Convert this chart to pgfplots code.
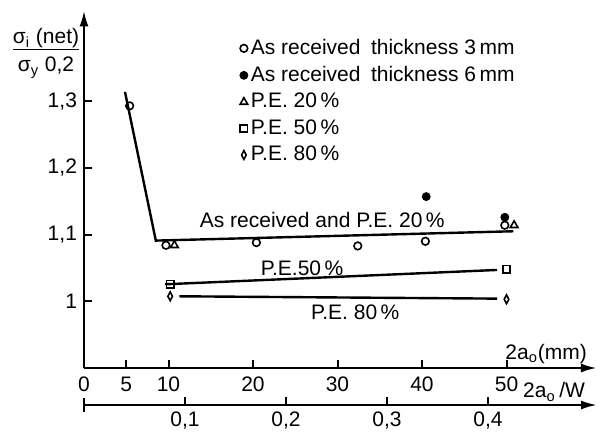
\documentclass[border=0pt]{standalone}
\usepackage{fontspec}
\setmainfont{Liberation Sans}
\usepackage{pgfplots}
\pgfplotsset{compat=1.18}
\usetikzlibrary{arrows.meta}
\begin{document}
\begin{tikzpicture}[font=\fontsize{10.5}{12}\selectfont]
\useasboundingbox (0,0) rectangle (300pt,216.5pt);
\begin{axis}[
  at={(42pt,32.5pt)}, anchor=south west,
  x=4.225pt, y=333.5pt,
  xmin=0, xmax=60.7, ymin=0.9, ymax=1.436,
  axis lines=left,
  axis line style={line width=1.2pt, -{Latex[length=8pt,width=4.5pt]}},
  xtick={0,5,10,20,30,40,50},
  xticklabels={0,5,10,20,30,40,50},
  ytick={1,1.1,1.2,1.3},
  yticklabels={1,{1,1},{1,2},{1,3}},
  tick align=inside,
  major tick length=4pt,
  tick style={line width=1pt, black},
  xticklabel style={yshift=-1pt},
  clip=false,
  legend style={at={(axis cs:18.4,1.398)}, anchor=north west, draw=none, fill=none,
    row sep=1.4pt, inner sep=0pt, nodes={inner sep=1.5pt, anchor=west}},
  legend cell align=left,
  legend image code/.code={\draw[mark repeat=2,mark phase=2,#1] plot coordinates {(0cm,0cm)(0.1cm,0cm)(0.2cm,0cm)};},
]
% fitted lines
\addplot[black, line width=1.2pt, forget plot] coordinates {(4.85,1.314) (8.5,1.091) (50.8,1.105)};
\addplot[black, line width=1.2pt, forget plot] coordinates {(9.6,1.0255) (48.9,1.047)};
\addplot[black, line width=1.2pt, forget plot] coordinates {(11.3,1.0075) (48.9,1.004)};
% data
\addplot[only marks, mark=o, mark size=1.9pt, black, thick] coordinates {(5.4,1.293) (9.7,1.084) (20.4,1.088) (32.4,1.083) (40.4,1.090) (49.8,1.114)};
\addlegendentry{As received\enspace thickness 3\,mm}
\addplot[only marks, mark=*, mark size=2pt, black] coordinates {(40.5,1.157) (49.8,1.126)};
\addlegendentry{As received\enspace thickness 6\,mm}
\addplot[only marks, mark=triangle, mark size=2.2pt, black, thick] coordinates {(10.7,1.084) (50.9,1.114)};
\addlegendentry{P.E. 20\,\%}
\addplot[only marks, mark=square, mark size=1.8pt, black, thick] coordinates {(10.2,1.0255) (50.0,1.048)};
\addlegendentry{P.E. 50\,\%}
\addplot[only marks, mark=diamond, mark size=2.2pt, mark options={xscale=0.7}, black, thick] coordinates {(10.2,1.0075) (50.0,1.003)};
\addlegendentry{P.E. 80\,\%}
% line labels
\node at (axis cs:28.2,1.1214) {As received and P.E. 20\,\%};
\node at (axis cs:25.8,1.0495) {P.E.50\,\%};
\node at (axis cs:32.1,0.9835) {P.E. 80\,\%};
\end{axis}
\begin{axis}[
  at={(42pt,14pt)}, anchor=south west,
  x=505pt, y=1pt, xmin=0, xmax=0.508, ymin=0, ymax=1,
  axis x line=bottom, hide y axis,
  axis line style={line width=1.2pt, -{Latex[length=8pt,width=4.5pt]}},
  xtick={0.1,0.2,0.3,0.4},
  xticklabels={{0,1},{0,2},{0,3},{0,4}},
  extra x ticks={0}, extra x tick labels={},
  extra x tick style={tick align=center, major tick length=7pt},
  tick align=inside,
  major tick length=4pt,
  tick style={line width=1pt, black},
  clip=false,
]
\addplot[draw=none, forget plot] coordinates {(0,0)};
\end{axis}
% axis labels
\node[anchor=east] at (297pt,39.5pt) {2a\textsubscript{o}(mm)};
\node[anchor=east] at (296pt,20.5pt) {2a\textsubscript{o}\,/W};
\node[align=center, inner sep=0pt] at (23pt,190pt) {%
  \begin{tabular}{@{}c@{}}σ\textsubscript{i}\ (net)\\[-1pt]\hline\rule{0pt}{11pt}σ\textsubscript{y} 0,2\end{tabular}};
\end{tikzpicture}
\end{document}
